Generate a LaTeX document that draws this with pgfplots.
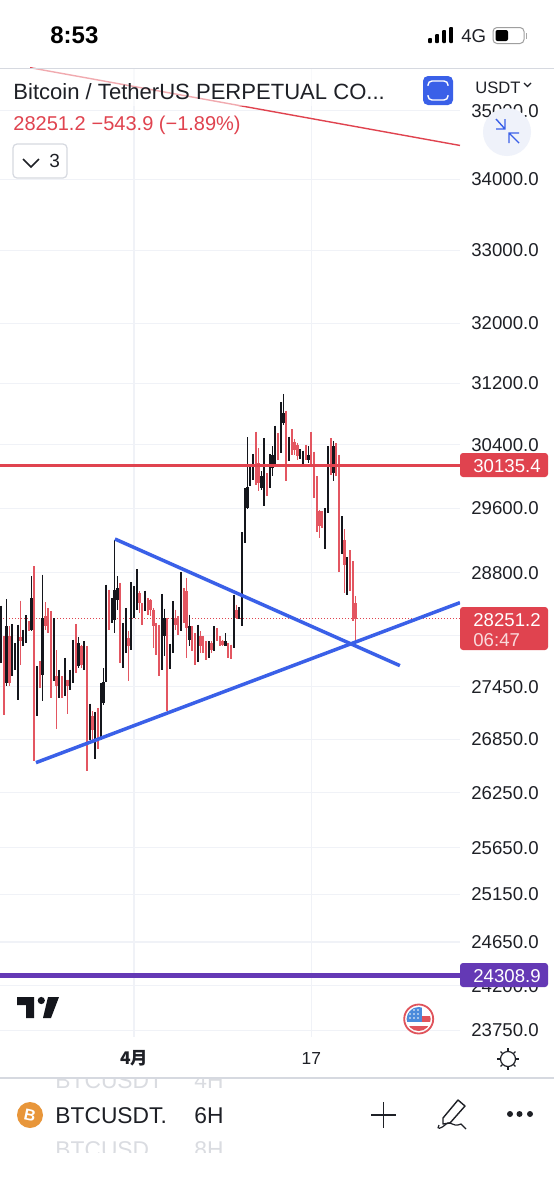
\documentclass[border=0pt]{standalone}
\usepackage{fontspec}
\setmainfont{Liberation Sans}
\newfontfamily\cjk{Noto Sans CJK SC}
\usepackage{pgfplots}
\usepackage{pgfplotstable}
\pgfplotsset{compat=1.18}
\definecolor{cred}{HTML}{E0434F}
\definecolor{credw}{HTML}{E35661}
\definecolor{cblk}{HTML}{14161C}
\definecolor{cblue}{HTML}{3A60E8}
\definecolor{cpur}{HTML}{6439B5}
\definecolor{cgrid}{HTML}{F0F2F7}
\definecolor{cline}{HTML}{D6D9E0}
\definecolor{cghost}{HTML}{DADCE1}
\definecolor{ctext}{HTML}{1E2026}
\definecolor{cbtn}{HTML}{EFF2FA}
\definecolor{cflagr}{HTML}{E0535B}
\definecolor{cflagb}{HTML}{4A8BDB}
\definecolor{corange}{HTML}{E8963A}

\pgfplotstableread{
i hi lo top bot
-47 28050 27130 27963 27418
-45 28160 27457 28042 27495
-41 28466 27708 28034 27983
-38 28220 28100 28200 28120
-36 28881 26603 28498 27245
-34 27748 27437 27612 27437
-32 28446 28120 28279 28160
-31 28378 28081 28279 28180
-30 28339 27322 28259 27573
-28 27877 26971 27573 27457
-26 27573 27322 27457 27380
-24 27534 27142 27534 27457
-21 28190 27612 27865 27650
-19 27943 27670 27924 27708
-17 27924 26490 27924 26960
-15 27169 26810 27112 26960
-13 27207 26734 27055 26847
-9 28599 28120 28359 28239
-5 28680 27728 28660 27845
-2 28100 27515 28022 27924
2 28579 28319 28559 28438
3 28438 28180 28418 28359
5 28498 28299 28478 28359
6 28486 28279 28478 28359
7 28378 27904 28359 28160
8 28200 27826 28160 27943
9 28180 27573 28160 27728
12 28259 27177 28259 27787
15 28359 28120 28259 28180
16 28279 28061 28259 28120
18 28619 28200 28579 28398
19 28740 27787 28579 28140
21 28160 27865 28120 27943
22 28081 27708 28042 27924
24 28100 27845 28042 27924
25 28042 27845 27983 27885
26 27983 27767 27943 27845
28 27983 27845 27963 27885
30 28140 27983 28120 28022
31 28042 27924 28022 27943
32 28002 27924 27983 27943
34 27963 27787 27943 27865
35 27943 27775 27924 27885
37 28418 28240 28359 28259
44 30570 29891 30250 29975
45 30356 29820 30166 29912
48 30039 29745 29954 29870
52 30548 30208 30420 30292
55 30842 29933 30785 30420
57 30600 30271 30463 30377
58 30471 30271 30441 30335
59 30420 30208 30398 30250
62 30398 30208 30377 30250
64 30561 30145 30314 30208
65 30314 29724 30208 29787
66 29997 29298 29997 29579
67 29579 29228 29559 29372
68 29559 29352 29538 29414
71 30484 30018 30377 30039
73 30420 29997 30377 30124
74 30271 28808 30271 29310
76 29339 28558 29207 28902
78 29076 28578 28902 28719
79 28942 28220 28618 28359
80 28518 27982 28438 28251
}\redT

\pgfplotstableread{
i hi lo top bot
-48 28406 27728 27963 27728
-46 28486 27457 28160 27495
-44 28190 27573 27845 27592
-43 27963 27650 27853 27670
-42 28180 27295 28022 27728
-40 28120 27924 28100 27963
-39 28290 27963 28200 28002
-37 28760 28100 28498 28120
-35 27689 27112 27612 27245
-33 28780 27285 28259 27592
-29 28259 27515 28259 27573
-27 27650 27322 27553 27380
-25 27787 27350 27534 27457
-23 27650 27418 27534 27457
-22 28002 27495 27865 27534
-20 28034 27670 27963 27689
-18 27983 27650 27924 27708
-16 27257 26847 27120 26960
-14 27158 26622 27055 26885
-12 27495 26847 27245 26866
-11 27670 27245 27503 27265
-10 28660 27503 28359 27534
-8 28498 28200 28359 28239
-7 29208 28081 28599 28239
-6 28760 28359 28619 28478
-4 28200 27670 28042 27845
-3 28378 27845 28022 27924
-1 28688 27877 28418 28022
0 28639 28259 28559 28359
1 28849 28359 28559 28438
4 28587 28339 28458 28359
10 28546 27650 28259 27670
11 28370 27806 28259 28042
13 27955 27658 27885 27787
14 28458 27845 28259 27904
17 28809 28100 28579 28259
20 28299 27924 28160 28002
23 28180 27736 28042 27845
27 27983 27787 27893 27826
29 28160 27865 28160 27963
33 28081 27924 27983 27932
36 28538 27903 28319 27903
38 28386 28240 28319 28259
39 29302 28168 29166 28259
40 29850 29166 29621 29166
41 30497 29588 29870 29600
42 30158 29878 30102 29878
43 30284 29954 30102 29954
46 30060 29829 29997 29850
47 30484 29628 29997 29829
49 30284 29850 30102 29954
50 30377 29997 30271 30102
51 30647 30124 30420 30271
53 30950 30292 30807 30420
54 31058 30655 30807 30677
56 30505 30187 30420 30271
60 30343 30216 30335 30250
61 30326 30115 30250 30166
63 30377 30166 30271 30208
69 29600 29092 29538 29414
70 30377 29538 30377 29579
72 30450 29941 30377 30039
75 29497 29032 29310 29044
77 28995 28538 28881 28800
}\blackT

\newcommand{\candles}[3]{%
\addplot[draw=none,forget plot,error bars/.cd,y dir=minus,y explicit,error mark=none,
  error bar style={line width=.85pt,color=#2}]
  table[x=i,y=hi,y error expr=\thisrow{hi}-\thisrow{lo}]{#1};
\addplot[draw=none,forget plot,error bars/.cd,y dir=minus,y explicit,error mark=none,
  error bar style={line width=#3,color=#2}]
  table[x=i,y=top,y error expr=\thisrow{top}-\thisrow{bot}]{#1};
}

\begin{document}
\begin{tikzpicture}[x=0.5pt,y=-0.5pt]
\useasboundingbox (0,0) rectangle (554,1200);
\path[fill=white] (0,0) rectangle (554,1200);
\begin{axis}[
  at={(0pt,-34pt)},anchor=north west,
  scale only axis,width=230pt,height=484.5pt,
  ymode=log,log basis y=10,
  xmin=-48.38,xmax=117.7,ymin=23686,ymax=35638,
  axis line style={draw=none},
  tick style={draw=none},
  ytick={23750,24200,24650,25150,25650,26250,26850,27450,28050,28800,29600,30400,31200,32000,33000,34000,35000},
  yticklabels={23750.0,24200.0,24650.0,25150.0,25650.0,26250.0,26850.0,27450.0,28050.0,28800.0,29600.0,30400.0,31200.0,32000.0,33000.0,34000.0,35000.0},
  xtick={0,64},
  xticklabels={{\cjk\bfseries 4月},{17}},
  yminorticks=false,
  grid=major,major grid style={color=cgrid,line width=.55pt},
  yticklabel pos=right,
  yticklabel style={anchor=west,inner sep=0pt,xshift=5.5pt,font=\fontsize{9.3}{10}\selectfont,text=ctext},
  xticklabel style={anchor=center,inner sep=0pt,yshift=-11pt,font=\fontsize{8.7}{10}\selectfont,text=ctext},
]
\addplot[color=cred,line width=.7pt] coordinates {(-37.5,35638) (117.7,34486)};
\addplot[color=cred,line width=.5pt,densely dotted] coordinates {(-48.38,28251.2) (117.7,28251.2)};
\candles{\redT}{credw}{1.15pt}
\candles{\blackT}{cblk}{1.15pt}
\addplot[color=cred,line width=.75pt] coordinates {(-48.38,30135.4) (117.7,30135.4)};
\addplot[color=cblue,line width=1.75pt] coordinates {(-6.86,29215) (96,27697)};
\addplot[color=cblue,line width=1.75pt] coordinates {(-35.4,26587) (117.7,28442)};
\addplot[color=cpur,line width=2.4pt] coordinates {(-48.38,24308.9) (117.7,24308.9)};
\end{axis}

% --- chrome ---
% cosmetic cover: a dark hairline of unknown origin lies over the 30135.4 line at this height
\fill[cred] (0,464.4) rectangle (460,466.8);
\fill[white,opacity=.55] (0,69) rectangle (400,106);
\draw[cline,line width=.5pt] (0,68) -- (554,68);
\draw[cline,line width=.6pt] (0,1078) -- (554,1078);
% status bar
\node[anchor=base west,inner sep=0pt,font=\fontsize{12}{14}\selectfont\bfseries] at (50,43) {8:53};
\foreach \x/\t in {430/38,437/34,444/30,451/27}{\fill[black,rounded corners=.4pt] (\x-1.8,43) rectangle (\x+1.8,\t);}
\node[anchor=base west,inner sep=0pt,font=\fontsize{9.3}{11}\selectfont,text=ctext] at (461,42) {4G};
\draw[gray!75,line width=.5pt,rounded corners=2pt] (493,27.5) rectangle (524,43.5);
\fill[black,rounded corners=1pt] (495.5,30) rectangle (508,41);
\fill[gray!70] (525.5,32.5) rectangle (527,38.5);
% header
\node[anchor=base west,inner sep=0pt,font=\fontsize{11.03}{13}\selectfont,text=ctext] at (13,99) {Bitcoin / TetherUS PERPETUAL CO...};
\node[anchor=base west,inner sep=0pt,font=\fontsize{10}{11}\selectfont,text=cred] at (13,130) {28251.2\hspace{3pt}−543.9 (−1.89\%)};
\draw[cline,fill=white,line width=.6pt,rounded corners=2pt] (13,144) rectangle (67,178);
\draw[ctext,line width=.85pt] (23,159) -- (31,167) -- (39,159);
\node[anchor=base west,inner sep=0pt,font=\fontsize{9.5}{11}\selectfont,text=ctext] at (49,167) {3};
% blue icon
\fill[cblue,rounded corners=2.5pt] (423,76) rectangle (453,105);
\draw[white,line width=.7pt,rounded corners=2pt] (428,81) rectangle (448,100);
\fill[cblue] (426,86) rectangle (430,95);
\fill[cblue] (446,86) rectangle (450,95);
% round button
\fill[white] (462,74) rectangle (554,96);
\node[anchor=base west,inner sep=0pt,font=\fontsize{8.3}{11}\selectfont,text=ctext] at (475,93) {USDT};
\draw[ctext,line width=.6pt] (524,83) -- (527.5,86.5) -- (531,83);
\fill[cbtn] (507,132) circle (24);
\draw[cblue,line width=.7pt] (496,119) -- (505,129) (496,129) -- (505,129) -- (505,119);
\draw[cblue,line width=.7pt] (519,143) -- (509,133) (519,133) -- (509,133) -- (509,143);
% price labels
\fill[cred,rounded corners=1.5pt] (460,453) rectangle (548,477);
\node[anchor=base west,inner sep=0pt,font=\fontsize{9.3}{10}\selectfont,text=white] at (473,472) {30135.4};
\fill[cred,rounded corners=1.5pt] (460,607) rectangle (548,650);
\node[anchor=base west,inner sep=0pt,font=\fontsize{9.3}{10}\selectfont,text=white] at (473,626) {28251.2};
\node[anchor=base west,inner sep=0pt,font=\fontsize{9.3}{10}\selectfont,text=white!80!cred] at (473,646) {06:47};
\fill[cpur,rounded corners=1.5pt] (460,963) rectangle (548,987);
\node[anchor=base west,inner sep=0pt,font=\fontsize{9.3}{10}\selectfont,text=white] at (473,982) {24308.9};
% TV logo
\fill[cblk] (17,997) -- (34,997) -- (34,1018) -- (26,1018) -- (26,1005) -- (17,1005) -- cycle;
\fill[cblk] (41.3,1000.5) circle (3.6);
\fill[cblk] (48,997) -- (59,997) -- (51,1018) -- (43,1018) -- cycle;
% flag
\begin{scope}
\clip (418.7,1019) circle (12);
\fill[white] (405,1005) rectangle (432,1033);
\fill[cflagr] (405,1016) rectangle (432,1021.5);
\fill[cflagr] (405,1026) rectangle (432,1033);
\fill[cflagb] (405,1006) rectangle (422,1021.5);
\foreach \px in {410,414,418}{\foreach \py in {1010,1014,1018}{\fill[white] (\px,\py) circle (.9);}}
\end{scope}
\draw[cflagr,line width=.9pt] (418.7,1019) circle (14.5);
% sun
\draw[ctext,line width=.6pt] (508,1059) circle (7.5);
\foreach \a in {0,90,180,270}{\draw[ctext,line width=.6pt] (508,1059)++(\a:8) -- ++(\a:3);}
\foreach \a in {45,135,225,315}{\draw[ctext,line width=.6pt] (508,1059)++(\a:8) -- ++(\a:2.5);}
% ghost rows
\begin{scope}
\clip (0,1079) rectangle (554,1152);
\node[anchor=base west,inner sep=0pt,font=\fontsize{11.4}{13}\selectfont,text=cghost] at (55,1088) {BTCUSDT};
\node[anchor=base west,inner sep=0pt,font=\fontsize{11.4}{13}\selectfont,text=cghost] at (194,1088) {4H};
\node[anchor=base west,inner sep=0pt,font=\fontsize{11.4}{13}\selectfont,text=cghost] at (55,1157) {BTCUSD};
\node[anchor=base west,inner sep=0pt,font=\fontsize{11.4}{13}\selectfont,text=cghost] at (194,1157) {8H};
\end{scope}
% bottom bar
\fill[corange] (30,1115) circle (13);
\node[rotate=-12,inner sep=0pt,font=\fontsize{8}{9}\selectfont\bfseries,text=white] at (30,1115) {B};
\node[anchor=base west,inner sep=0pt,font=\fontsize{11.4}{13}\selectfont,text=ctext] at (55,1123) {BTCUSDT.};
\node[anchor=base west,inner sep=0pt,font=\fontsize{11.4}{13}\selectfont,text=ctext] at (194,1123) {6H};
\draw[ctext,line width=.7pt] (371,1115) -- (396,1115) (383.5,1102) -- (383.5,1128);
\draw[ctext,line width=.7pt,line join=round] (443,1118) -- (458,1100) -- (465,1106) -- (450,1123) -- (443,1124) -- cycle;
\draw[ctext,line width=.6pt] (439,1125) .. controls (436,1130) and (441,1129) .. (446,1124) .. controls (452,1120) and (452,1128) .. (461,1124) -- (466,1129);
\foreach \x in {510,519.5,530}{\fill[ctext] (\x,1114) circle (3);}
\end{tikzpicture}
\end{document}
